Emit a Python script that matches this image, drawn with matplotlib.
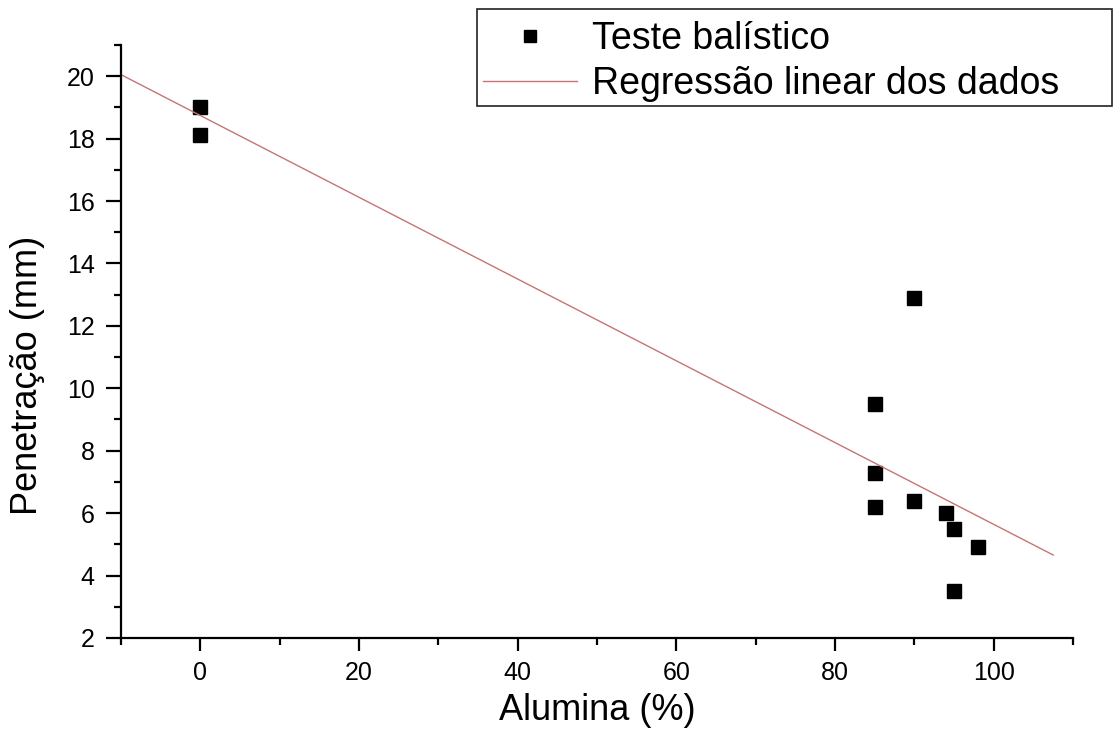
import numpy as np
import matplotlib
matplotlib.use('Agg')
import matplotlib.pyplot as plt
from matplotlib.patches import Rectangle

plt.rcParams['font.family'] = ['Liberation Sans', 'DejaVu Sans']

# ballistic test data
alumina = [0, 0, 85, 85, 85, 90, 90, 94, 95, 95, 98]
penetracao = [19.0, 18.1, 9.5, 7.3, 6.2, 12.9, 6.4, 6.0, 5.5, 3.5, 4.9]

# linear fit line (as drawn in the figure)
fit_x = [-10, 107.5]
fit_slope = -0.131
fit_intercept = 18.74

fig = plt.figure(figsize=(11.16, 7.36), dpi=100)
ax = fig.add_axes([0.1084, 0.1332, 0.8531, 0.8057])

fit_y = [fit_intercept + fit_slope * x for x in fit_x]
ax.plot(alumina, penetracao, 's', color='black', markersize=10.5, label='Teste balístico')
ax.plot(fit_x, fit_y, '-', color='#c67474', linewidth=1.0, label='Regressão linear dos dados')

ax.set_xlim(-10, 110)
ax.set_ylim(2, 21)
ax.set_xticks([0, 20, 40, 60, 80, 100])
ax.set_xticks(np.arange(-10, 111, 10), minor=True)
ax.set_yticks(np.arange(2, 21, 2))
ax.set_yticks(np.arange(3, 22, 2), minor=True)

for s in ['top', 'right']:
    ax.spines[s].set_visible(False)
for s in ['left', 'bottom']:
    ax.spines[s].set_linewidth(1.6)

ax.tick_params(axis='x', which='major', direction='out', length=9.5, width=1.6, labelsize=18, pad=7)
ax.tick_params(axis='y', which='major', direction='out', length=11, width=1.6, labelsize=18, pad=8)
ax.tick_params(which='minor', direction='out', length=5, width=1.6)

ax.set_xlabel('Alumina (%)', fontsize=26, labelpad=6)
ax.set_ylabel('Penetração (mm)', fontsize=26)
ax.yaxis.set_label_coords(-0.080, 0.4435)

# legend box drawn by hand (wider on the right than the entries)
box = Rectangle((477 / 1116, 1 - 106 / 736), 635 / 1116, 97 / 736,
                transform=fig.transFigure, facecolor='white',
                edgecolor='#222222', linewidth=1.2, clip_on=False, zorder=5)
ax.add_patch(box)
leg = ax.legend(loc='center left', bbox_to_anchor=(483 / 1116, 1 - 61.5 / 736),
                bbox_transform=fig.transFigure, fontsize=27, frameon=False,
                handlelength=2.5, handletextpad=0.4, labelspacing=0.24,
                borderpad=0, borderaxespad=0, markerscale=0.87)
leg.set_zorder(6)

fig.savefig('out.png', dpi=100)
